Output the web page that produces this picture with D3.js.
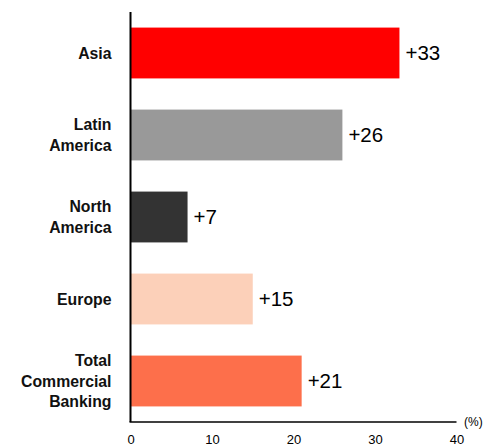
<!DOCTYPE html>
<html>
<head>
<meta charset="utf-8">
<script src="https://cdn.jsdelivr.net/npm/d3@7"></script>
<style>
  html, body { margin: 0; padding: 0; background: #fff; }
  text { font-family: "Liberation Sans", Arial, sans-serif; }
</style>
</head>
<body>
<svg id="chart" width="485" height="447"></svg>
<script>
// Growth by region (%)
const regions = [
  ["Asia"],
  ["Latin", "America"],
  ["North", "America"],
  ["Europe"],
  ["Total", "Commercial", "Banking"]
];
const regionKeys = ["Asia", "Latin America", "North America", "Europe", "Total Commercial Banking"];
const growth = [33, 26, 7, 15, 21];
const barColors = ["#ff0000", "#999999", "#333333", "#fcd0b9", "#fd6f4b"];
const xTicks = [0, 10, 20, 30, 40];

const svg = d3.select("#chart");

const x = d3.scaleLinear().domain([0, 40]).range([130.5, 456.5]);
const y = d3.scaleBand().domain(regionKeys).range([12, 422]).paddingInner(0.38).paddingOuter(0.19);

// bars
svg.selectAll("rect.bar").data(growth).join("rect")
  .attr("class", "bar")
  .attr("x", x(0))
  .attr("y", (d, i) => y(regionKeys[i]))
  .attr("width", d => x(d) - x(0))
  .attr("height", y.bandwidth())
  .attr("fill", (d, i) => barColors[i]);

// value labels
svg.selectAll("text.val").data(growth).join("text")
  .attr("class", "val")
  .attr("x", d => x(d) + 6)
  .attr("y", (d, i) => y(regionKeys[i]) + y.bandwidth() / 2)
  .attr("dy", "0.35em")
  .attr("font-size", 20.5)
  .attr("fill", "#000")
  .text(d => "+" + d);

// category labels (multi-line, right aligned)
const lineH = 20.5;
regions.forEach((lines, i) => {
  const cy = y(regionKeys[i]) + y.bandwidth() / 2;
  const t = svg.append("text")
    .attr("text-anchor", "end")
    .attr("font-size", 15.8)
    .attr("font-weight", "bold")
    .attr("fill", "#111");
  lines.forEach((ln, j) => {
    t.append("tspan")
      .attr("x", 111.5)
      .attr("y", cy + (j - (lines.length - 1) / 2) * lineH)
      .attr("dy", "0.35em")
      .text(ln);
  });
});

// axes lines
svg.append("line")
  .attr("x1", x(0)).attr("x2", x(0))
  .attr("y1", 12).attr("y2", 422)
  .attr("stroke", "#000").attr("stroke-width", 2);
svg.append("line")
  .attr("x1", x(0) - 1).attr("x2", x(40))
  .attr("y1", 422).attr("y2", 422)
  .attr("stroke", "#000").attr("stroke-width", 1.5);

// x tick labels
const xAxis = d3.axisBottom(x).tickValues(xTicks).tickSize(0).tickPadding(13);
const gx = svg.append("g").attr("transform", "translate(0,422)").call(xAxis);
gx.select(".domain").remove();
gx.selectAll("text")
  .attr("font-size", 13)
  .attr("fill", "#000")
  .attr("font-family", "\"Liberation Sans\", Arial, sans-serif");

svg.append("text")
  .attr("x", 464)
  .attr("y", 426)
  .attr("font-size", 12)
  .attr("fill", "#000")
  .text("(%)");
</script>
</body>
</html>
